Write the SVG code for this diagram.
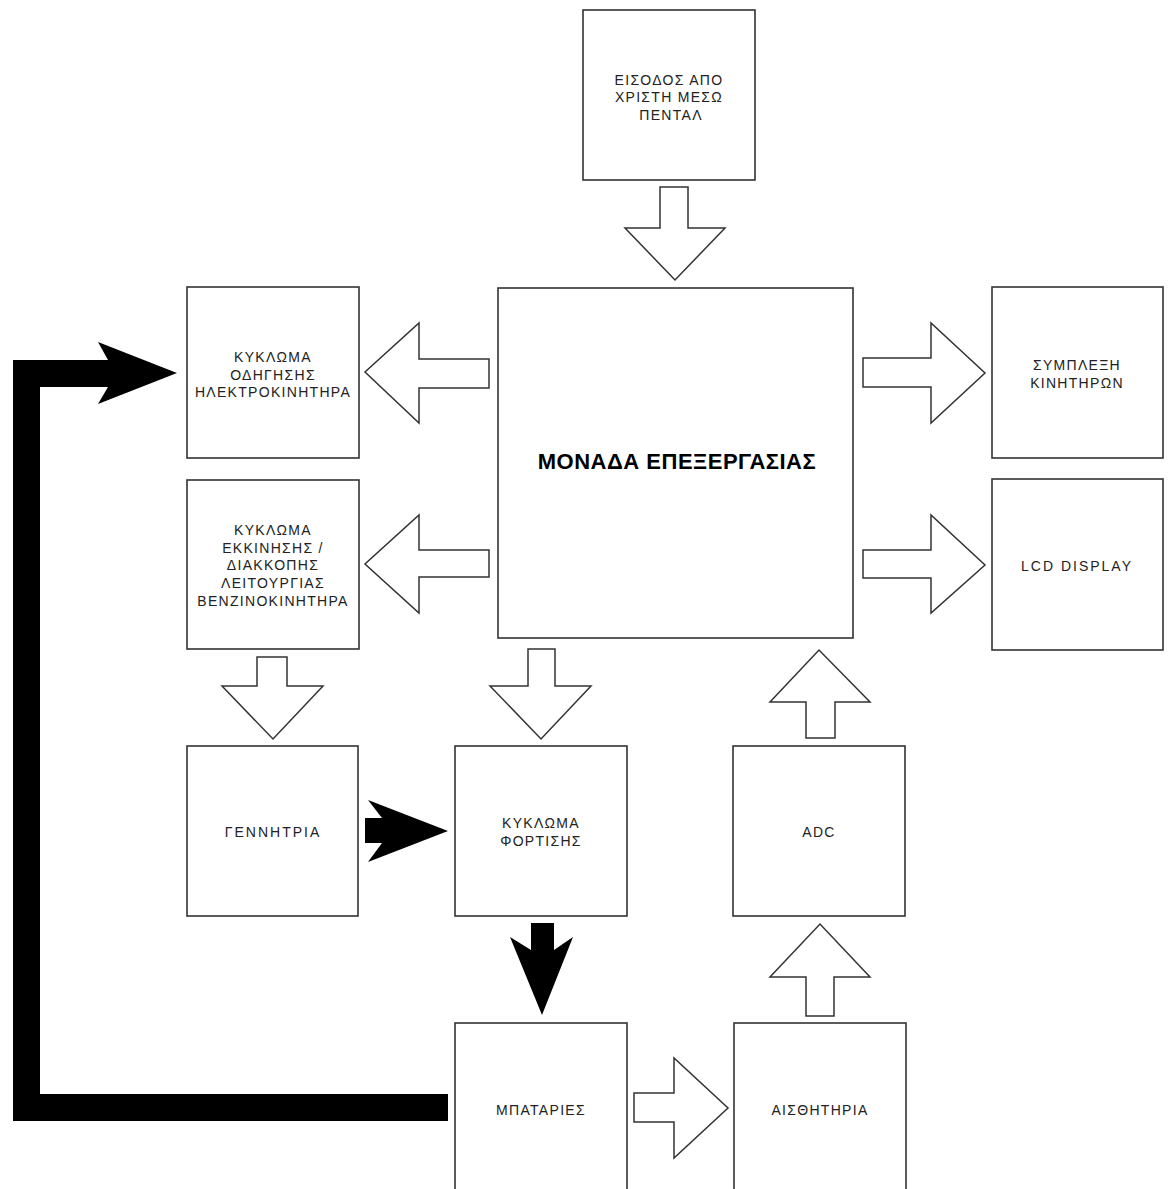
<svg xmlns="http://www.w3.org/2000/svg" width="1170" height="1189" viewBox="0 0 1170 1189">
<style>
.box{fill:#fff;stroke:#333;stroke-width:1.6}
.ha{fill:#fff;stroke:#333;stroke-width:1.5;stroke-linejoin:miter}
.ba{fill:#000;stroke:none}
.t{font-family:"Liberation Sans",Arial,sans-serif;font-size:14px;fill:#222;text-anchor:middle;letter-spacing:1.3px}
.tm{font-family:"Liberation Sans",Arial,sans-serif;font-size:22px;font-weight:bold;fill:#000;text-anchor:middle;letter-spacing:0.5px}
</style>
<rect width="1170" height="1189" fill="#fff"/>
<g id="connectors">
<polygon class="ha" points="660,187 688,187 688,228 725,228 675,280 625,228 660,228"/>
<polygon class="ha" points="489,359 489,388 419,388 419,423 365,372 419,323 419,359"/>
<polygon class="ha" points="489,550 489,577 419,577 419,613 365,564 419,515 419,550"/>
<polygon class="ha" points="863,358 931,358 931,323 985,373 931,423 931,387 863,387"/>
<polygon class="ha" points="863,550 931,550 931,515 985,565 931,613 931,578 863,578"/>
<polygon class="ha" points="257,657 287,657 287,686 323,686 273,739 222,686 257,686"/>
<polygon class="ha" points="528,649 555,649 555,686 591,686 541,739 490,686 528,686"/>
<polygon class="ha" points="806,738 806,702 770,702 819,650 870,702 835,702 835,738"/>
<polygon class="ha" points="806,1016 806,977 770,977 820,924 870,977 834,977 834,1016"/>
<polygon class="ha" points="634,1093 674,1093 674,1058 728,1108 674,1158 674,1122 634,1122"/>
<polygon class="ba" points="365,818 382,818 368,800 448,831 368,862 382,843 365,843"/>
<polygon class="ba" points="531,923 554,923 554,950 573,937 542,1015 510,937 531,950"/>
<polygon class="ba" points="448,1094 40,1094 40,387 108,387 98,404 177,373 98,342 108,360 13,360 13,1121 448,1121"/>
</g>
<g id="input">
<rect class="box" x="583" y="10" width="172" height="170"/>
<text class="t" x="669" y="85">ΕΙΣΟΔΟΣ ΑΠΟ</text>
<text class="t" x="669" y="102">ΧΡΙΣΤΗ ΜΕΣΩ</text>
<text class="t" x="671" y="120">ΠΕΝΤΑΛ</text>
</g>
<g id="cpu">
<rect class="box" x="498" y="288" width="355" height="350"/>
<text class="tm" x="677" y="469">ΜΟΝΑΔΑ ΕΠΕΞΕΡΓΑΣΙΑΣ</text>
</g>
<g id="motor-driver">
<rect class="box" x="187" y="287" width="172" height="171"/>
<text class="t" x="273" y="362">ΚΥΚΛΩΜΑ</text>
<text class="t" x="273" y="380">ΟΔΗΓΗΣΗΣ</text>
<text class="t" x="273" y="397">ΗΛΕΚΤΡΟΚΙΝΗΤΗΡΑ</text>
</g>
<g id="engine-start">
<rect class="box" x="187" y="480" width="172" height="169"/>
<text class="t" x="273" y="535">ΚΥΚΛΩΜΑ</text>
<text class="t" x="273" y="553">ΕΚΚΙΝΗΣΗΣ /</text>
<text class="t" x="273" y="570">ΔΙΑΚΚΟΠΗΣ</text>
<text class="t" x="273" y="588">ΛΕΙΤΟΥΡΓΙΑΣ</text>
<text class="t" x="273" y="606">ΒΕΝΖΙΝΟΚΙΝΗΤΗΡΑ</text>
</g>
<g id="clutch">
<rect class="box" x="992" y="287" width="171" height="171"/>
<text class="t" x="1077" y="370">ΣΥΜΠΛΕΞΗ</text>
<text class="t" x="1077" y="388">ΚΙΝΗΤΗΡΩΝ</text>
</g>
<g id="lcd">
<rect class="box" x="992" y="479" width="171" height="171"/>
<text class="t" x="1077" y="571" style="letter-spacing:2px">LCD DISPLAY</text>
</g>
<g id="generator">
<rect class="box" x="187" y="746" width="171" height="170"/>
<text class="t" x="273" y="837" style="letter-spacing:2px">ΓΕΝΝΗΤΡΙΑ</text>
</g>
<g id="charger">
<rect class="box" x="455" y="746" width="172" height="170"/>
<text class="t" x="541" y="828">ΚΥΚΛΩΜΑ</text>
<text class="t" x="541" y="846">ΦΟΡΤΙΣΗΣ</text>
</g>
<g id="adc">
<rect class="box" x="733" y="746" width="172" height="170"/>
<text class="t" x="819" y="837">ADC</text>
</g>
<g id="batteries">
<rect class="box" x="455" y="1023" width="172" height="180"/>
<text class="t" x="541" y="1115">ΜΠΑΤΑΡΙΕΣ</text>
</g>
<g id="sensors">
<rect class="box" x="734" y="1023" width="172" height="180"/>
<text class="t" x="820" y="1115">ΑΙΣΘΗΤΗΡΙΑ</text>
</g>
</svg>
